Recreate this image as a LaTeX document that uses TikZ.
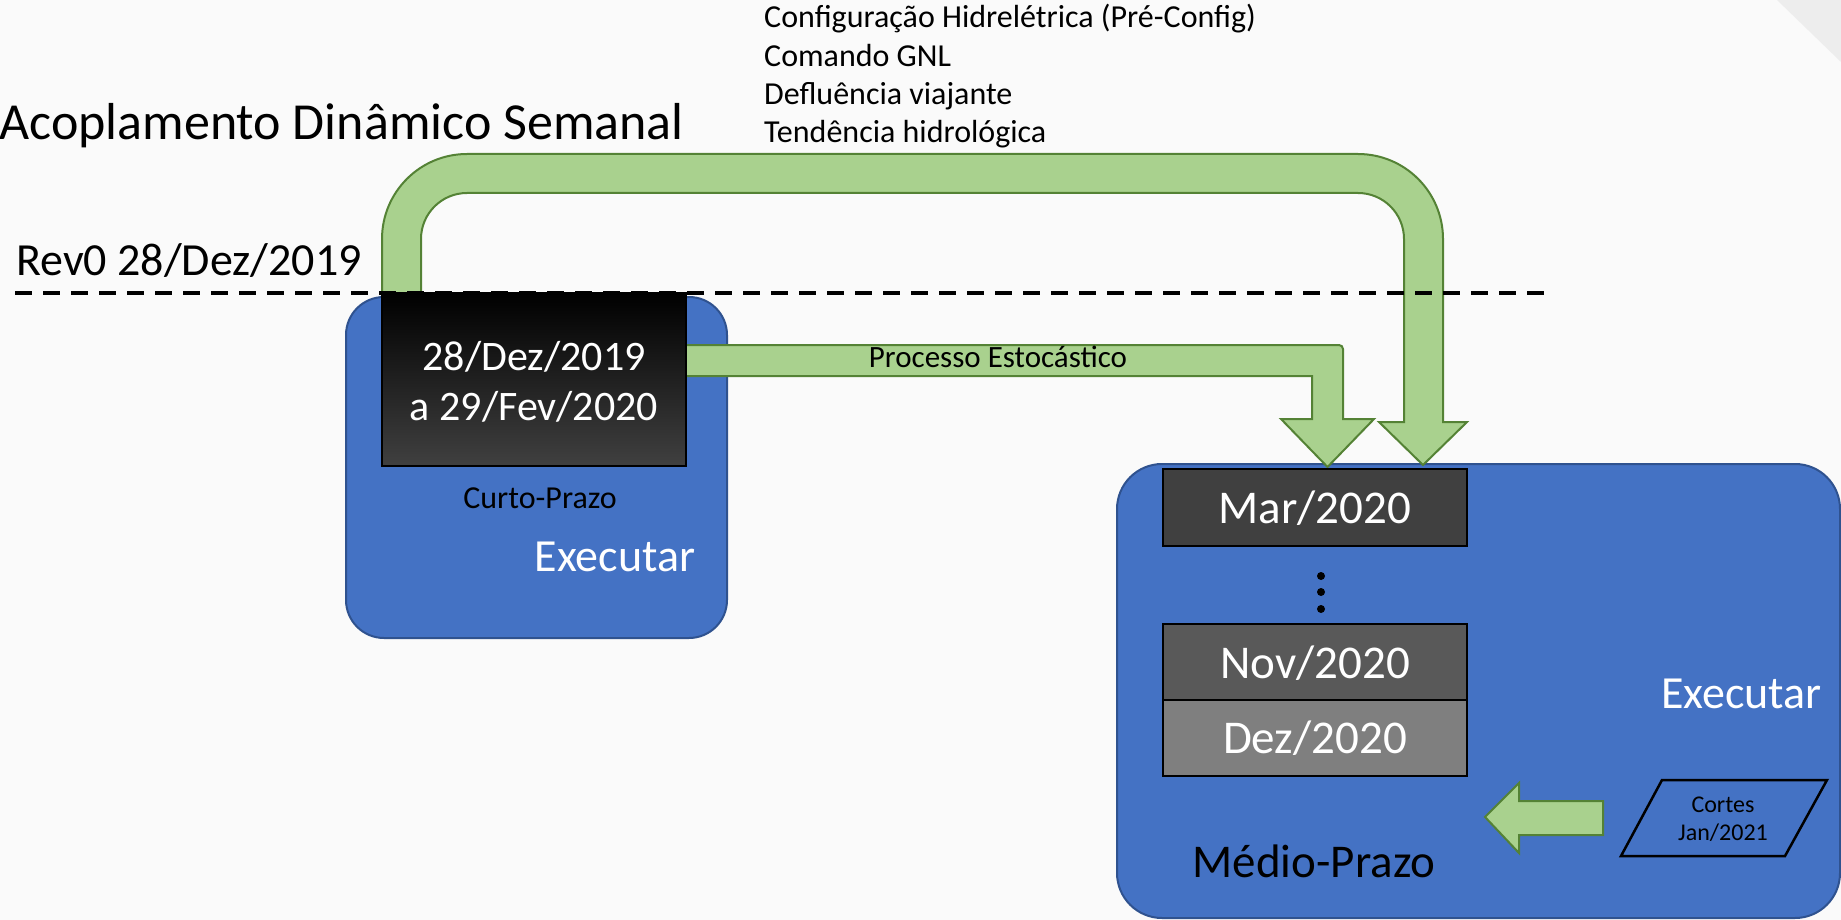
\documentclass[tikz,border=0pt]{standalone}
\usepackage{fontspec}
\setmainfont{Carlito}
\definecolor{bfill}{HTML}{4472C4}
\definecolor{bline}{HTML}{2F528F}
\definecolor{gfill}{HTML}{A9D18E}
\definecolor{gline}{HTML}{548235}
\definecolor{bgc}{HTML}{FAFAFA}
\definecolor{mone}{HTML}{404040}
\definecolor{mtwo}{HTML}{595959}
\definecolor{mthree}{HTML}{7F7F7F}
\begin{document}
\begin{tikzpicture}[x=1pt,y=-1pt,
  bluebox/.style={draw=bline, line width=2pt, fill=bfill, inner sep=0pt},
  garrow/.style={draw=gline, line width=2pt, fill=gfill, line join=miter},
  monthbox/.style={draw=black, line width=2.5pt, minimum width=304pt, inner sep=0pt},
  txt/.style={inner sep=0pt, anchor=base},
  small/.style={font=\fontsize{32}{39}\selectfont},
  big/.style={font=\fontsize{46}{55}\selectfont},
  month/.style={txt, text=white, font=\fontsize{47}{56}\selectfont}]
\useasboundingbox (0,0) rectangle (1841,920);
\clip (0,0) rectangle (1841,920);
\fill[bgc] (0,0) rectangle (1841,920);
\fill[black!7] (1777,0) -- (1841,0) -- (1841,62) -- cycle;

% title and side labels
\node[txt, anchor=base east, font=\fontsize{52}{62}\selectfont] (title) at (684,140) {Acoplamento Dinâmico Semanal};
\node[txt, anchor=base west, big] (rev) at (16,275) {Rev0 28/Dez/2019};
\node[txt, anchor=base west, small] (l1) at (764,28) {Configuração Hidrelétrica (Pré-Config)};
\node[txt, anchor=base west, small] (l2) at (764,67) {Comando GNL};
\node[txt, anchor=base west, small] (l3) at (764,105) {Defluência viajante};
\node[txt, anchor=base west, small] (l4) at (764,143) {Tendência hidrológica};

% boxes
\node[bluebox, rounded corners=38pt, minimum width=381pt, minimum height=341pt] (cp) at (536.5,467.5) {};
\node[bluebox, rounded corners=45pt, minimum width=723pt, minimum height=454pt] (mp) at (1478.5,691) {};

% big U arrow
\draw[garrow] (382,300) -- (382,239) arc[start angle=180, end angle=270, radius=85]
  -- (1358,154) arc[start angle=270, end angle=360, radius=85]
  -- (1443,422) -- (1467,422) -- (1423,465) -- (1379,422) -- (1404,422)
  -- (1404,239) arc[start angle=0, end angle=-90, radius=46]
  -- (467,193) arc[start angle=270, end angle=180, radius=46]
  -- (421,300) -- cycle;

% Processo Estocastico arrow
\draw[garrow] (680,345) -- (1339,345) arc[start angle=270, end angle=360, radius=4]
  -- (1343,419) -- (1374,419) -- (1327.5,467) -- (1281,419) -- (1312,419)
  -- (1312,376) -- (680,376) -- cycle;
\node[txt, font=\fontsize{31}{37}\selectfont] (pe) at (998,367) {Processo Estocástico};

% short-term dates box
\node[draw=black, line width=2.5pt, top color=black, bottom color=mone, minimum width=304pt, minimum height=173pt, inner sep=0pt] (dates) at (534,379.5) {};
\node[txt, text=white, font=\fontsize{42}{50}\selectfont] (d1) at (534,370) {28/Dez/2019};
\node[txt, text=white, font=\fontsize{42}{50}\selectfont] (d2) at (534,420) {a 29/Fev/2020};
\node[txt, small] (cpl) at (540,508) {Curto-Prazo};
\node[txt, big, text=white] (ex1) at (615,571) {Executar};

% dashed line
\coordinate (dl) at (15,293);
\coordinate (dr) at (1547,293);
\draw[line width=4.5pt, dash pattern=on 17pt off 11pt] (dl) -- (dr);

% month boxes
\node[monthbox, fill=mone, minimum height=77pt] (mar) at (1315,507.5) {};
\node[monthbox, fill=mtwo, minimum height=76pt] (nov) at (1315,662) {};
\node[monthbox, fill=mthree, minimum height=76pt] (dez) at (1315,738) {};
\node[month] (tmar) at (1315,523) {Mar/2020};
\node[month] (tnov) at (1315,678) {Nov/2020};
\node[month] (tdez) at (1315,753) {Dez/2020};
\fill (1321,576) circle[radius=4];
\fill (1321,592) circle[radius=4];
\fill (1321,609) circle[radius=4];

\node[txt, big, text=white] (ex2) at (1741.5,708) {Executar};
\node[txt, font=\fontsize{47}{56}\selectfont] (mpl) at (1314,877) {Médio-Prazo};

% left arrow and cortes
\draw[garrow] (1485,817) -- (1519,783) -- (1519,801) -- (1603,801) -- (1603,835)
  -- (1519,835) -- (1519,853) -- cycle;
\draw[line width=2.5pt, fill=bfill, line join=miter] (1662,780) -- (1827,780) -- (1785,856) -- (1621,856) -- cycle;
\node[txt, font=\fontsize{24}{28}\selectfont] (c1) at (1723,812) {Cortes};
\node[txt, font=\fontsize{24}{28}\selectfont] (c2) at (1723,840) {Jan/2021};
\end{tikzpicture}
\end{document}
